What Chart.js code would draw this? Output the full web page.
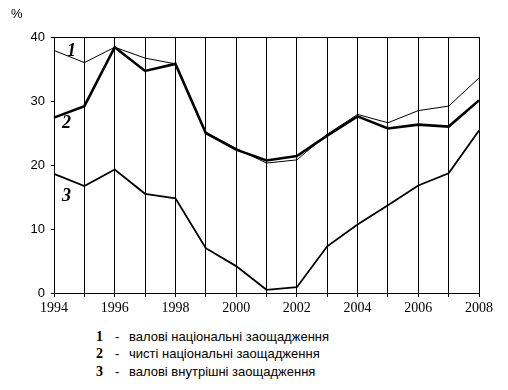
<!DOCTYPE html>
<html>
<head>
<meta charset="utf-8">
<script src="https://cdn.jsdelivr.net/npm/chart.js@4"></script>
<style>
    body { margin: 0; background: #fff; }
    #wrap { position: relative; width: 508px; height: 390px; }
    #chart { position: absolute; left: 0; top: 0; }
    .note { position: absolute; font-family: 'Liberation Sans', Arial, sans-serif; font-size: 13px; color: #000; }
    .num { position: absolute; font-family: 'Liberation Serif', 'Times New Roman', serif; font-weight: bold; font-style: italic; font-size: 18px; color: #000; }
    .legend { position: absolute; left: 96px; font-family: 'Liberation Sans', Arial, sans-serif; font-size: 13px; color: #000; white-space: nowrap; }
    .legend b { display: inline-block; width: 19px; font-family: 'Liberation Serif', 'Times New Roman', serif; font-size: 14px; }
    .legend span { display: inline-block; width: 14px; }
</style>
</head>
<body>
<div id="wrap">
    <canvas id="chart" width="508" height="320"></canvas>
    <div class="note" style="left:11px; top:6px;">%</div>
    <div class="num" style="left:67px; top:40px;">1</div>
    <div class="num" style="left:62px; top:112px;">2</div>
    <div class="num" style="left:62px; top:185px;">3</div>
    <div class="legend" style="top:329px;"><b>1</b><span>-</span>валові національні заощадження</div>
    <div class="legend" style="top:346px;"><b>2</b><span>-</span>чисті національні заощадження</div>
    <div class="legend" style="top:364px;"><b>3</b><span>-</span>валові внутрішні заощадження</div>
</div>
<script>
// Data
const years = ['1994', '1995', '1996', '1997', '1998', '1999', '2000', '2001',
               '2002', '2003', '2004', '2005', '2006', '2007', '2008'];
const grossNational = [37.9, 36.0, 38.4, 36.7, 35.8, 25.1, 22.6, 20.3, 20.8, 24.8, 27.9, 26.6, 28.5, 29.2, 33.6];
const netNational   = [27.4, 29.2, 38.4, 34.7, 35.8, 25.0, 22.4, 20.7, 21.4, 24.6, 27.6, 25.7, 26.3, 26.0, 30.1];
const grossDomestic = [18.6, 16.7, 19.3, 15.5, 14.8, 7.0, 4.2, 0.5, 0.9, 7.3, 10.7, 13.7, 16.8, 18.7, 25.4];
const yTicks = [0, 10, 20, 30, 40];

const ctx = document.getElementById('chart');

new Chart(ctx, {
    type: 'line',
    data: {
        labels: years,
        datasets: [{
            label: '1',
            data: grossNational,
            borderColor: '#000',
            borderWidth: 1,
            pointRadius: 0,
            tension: 0
        }, {
            label: '2',
            data: netNational,
            borderColor: '#000',
            borderWidth: 2.6,
            pointRadius: 0,
            tension: 0
        }, {
            label: '3',
            data: grossDomestic,
            borderColor: '#000',
            borderWidth: 1.8,
            pointRadius: 0,
            tension: 0
        }]
    },
    options: {
        responsive: false,
        animation: false,
        layout: { padding: { top: 37, right: 29, left: 0, bottom: 0 } },
        plugins: {
            legend: { display: false },
            tooltip: { enabled: false }
        },
        scales: {
            x: {
                type: 'category',
                offset: false,
                afterFit: (scale) => { scale.height = 27; },
                grid: { color: '#000', lineWidth: 1, tickLength: 4, drawTicks: true },
                border: { color: '#000', width: 1 },
                ticks: {
                    color: '#000',
                    padding: 3,
                    maxRotation: 0,
                    autoSkip: false,
                    font: { family: "'Liberation Serif', 'Times New Roman', serif", size: 14 },
                    callback: (value, i) => (i % 2 === 0 ? years[i] : '')
                }
            },
            y: {
                min: 0,
                max: 40,
                afterFit: (scale) => { scale.width = 54; },
                afterBuildTicks: (scale) => { scale.ticks = yTicks.map(v => ({ value: v })); },
                grid: {
                    color: (c) => (c.tick && c.tick.value === 40 ? '#000' : 'rgba(0,0,0,0)'),
                    tickColor: '#000',
                    tickLength: 3
                },
                border: { color: '#000', width: 1 },
                ticks: {
                    color: '#000',
                    padding: 6,
                    font: { family: "'Liberation Sans', Arial, sans-serif", size: 13 }
                }
            }
        }
    }
});
</script>
</body>
</html>
